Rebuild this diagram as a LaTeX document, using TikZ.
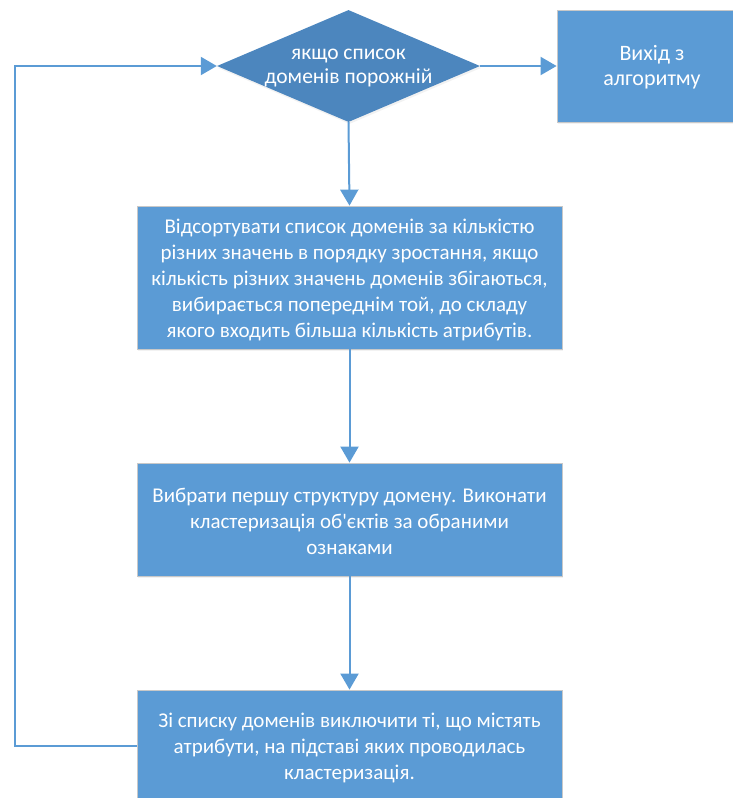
\documentclass[tikz,border=0pt]{standalone}
\usepackage{fontspec}
\setmainfont{Carlito}[Ligatures=TeXOff]
\usetikzlibrary{shapes.geometric,arrows.meta,shadows}
\definecolor{boxblue}{RGB}{91,155,213}
\definecolor{diamblue}{RGB}{76,134,190}
\definecolor{edgegray}{RGB}{200,200,200}
\tikzset{
  procbox/.style={rectangle, fill=boxblue, draw=edgegray, line width=0.8pt,
    inner sep=0pt, drop shadow={opacity=0.10, shadow xshift=1pt, shadow yshift=-2pt}},
  decbox/.style={diamond, fill=diamblue, draw=none, inner sep=0pt,
    drop shadow={opacity=0.10, shadow xshift=1pt, shadow yshift=-2pt}},
  txt/.style={text=white, align=center, font=\fontsize{21}{26}\selectfont},
  conn/.style={draw=boxblue, line width=2pt, -{Triangle[length=16pt,width=18pt]}}
}
\begin{document}
\begin{tikzpicture}[x=1pt,y=-1pt]
\useasboundingbox (0,0) rectangle (733,798);
\node[decbox, minimum width=263pt, minimum height=112pt] (d) at (348.5,66) {};
\node[txt, font=\fontsize{21.5}{23.5}\selectfont] (dt) at ([yshift=-2pt]d) {якщо список\\доменів порожній};
\node[procbox, minimum width=190pt, minimum height=112pt] (ex) at (652,66) {};
\node[txt, font=\fontsize{22}{25}\selectfont] (ext) at ([yshift=-1pt]ex) {Вихід з\\алгоритму};
\node[procbox, minimum width=425pt, minimum height=143pt] (b2) at (349.5,277.5) {};
\node[txt] (b2t) at ([yshift=-2pt]b2) {Відсортувати список доменів за кількістю\\різних значень в порядку зростання, якщо\\кількість різних значень доменів збігаються,\\вибирається попереднім той, до складу\\якого входить більша кількість атрибутів.};
\node[procbox, minimum width=425pt, minimum height=113pt] (b3) at (349.5,519.5) {};
\node[txt] (b3t) at ([yshift=-2pt]b3) {Вибрати першу структуру домену. Виконати\\кластеризація об'єктів за обраними\\ознаками};
\node[procbox, minimum width=425pt, minimum height=112pt] (b4) at (349.5,746) {};
\node[txt] (b4t) at ([yshift=-2pt]b4) {Зі списку доменів виключити ті, що містять\\атрибути, на підставі яких проводилась\\кластеризація.};
\coordinate (lc) at (15,66);
\draw[conn] (d.east) -- (ex.west);
\draw[conn] (d.south) -- (b2.north);
\draw[conn] (b2.south) -- (b3.north);
\draw[conn] (b3.south) -- (b4.north);
\draw[conn] (b4.west) -| (lc) -- (d.west);
\end{tikzpicture}
\end{document}
